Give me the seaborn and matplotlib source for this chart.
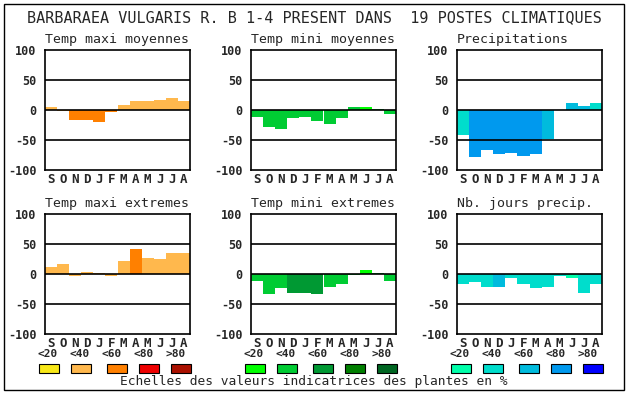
import pandas as pd
import matplotlib
matplotlib.use("Agg")
import matplotlib.pyplot as plt
from matplotlib.patches import Rectangle
import seaborn as sns

# === DONNEES ===
mois = ['S', 'O', 'N', 'D', 'J', 'F', 'M', 'A', 'M', 'J', 'J', 'A']
classes = ['<20', '<40', '<60', '<80', '>80']

titre = "BARBARAEA VULGARIS R. B 1-4 PRESENT DANS  19 POSTES CLIMATIQUES"
pied = "Echelles des valeurs indicatrices des plantes en %"

titres = ['Temp maxi moyennes', 'Temp mini moyennes', 'Precipitations',
          'Temp maxi extremes', 'Temp mini extremes', 'Nb. jours precip.']

tmax_moy = [5, -2, -16, -17, -20, -4, 8, 15, 15, 17, 20, 15]
tmax_moy_cl = ['<40', '<40', '<60', '<60', '<60', '<60', '<40', '<40', '<40', '<40', '<40', '<40']

tmin_moy = [-11, -28, -31, -14, -11, -18, -23, -13, 5, 5, 2, -6]
tmin_moy_cl = ['<40', '<40', '<40', '<40', '<40', '<40', '<40', '<40', '<40', '<20', '<40', '<40']

precip = [-42, -78, -67, -73, -72, -76, -73, -48, 0, 12, 7, 12]
precip_cl = ['<40', '<80', '<80', '<80', '<80', '<80', '<80', '<60', '<60', '<60', '<60', '<40']

tmax_ext = [12, 17, -3, 3, 2, -4, 21, 42, 27, 25, 35, 35]
tmax_ext_cl = ['<40', '<40', '<40', '<40', '<40', '<40', '<40', '<60', '<40', '<40', '<40', '<40']

tmin_ext = [-12, -34, -23, -32, -32, -34, -21, -17, -2, 7, 2, -11]
tmin_ext_cl = ['<40', '<40', '<40', '<60', '<60', '<60', '<40', '<40', '<40', '<20', '<40', '<40']

jours = [-17, -13, -21, -21, -7, -16, -24, -22, -4, -7, -31, -16]
jours_cl = ['<40', '<40', '<40', '<60', '<40', '<40', '<40', '<40', '<40', '<20', '<40', '<40']

oranges = ['#F8E818', '#FFB84D', '#FF8000', '#EE0000', '#AA1000']
verts = ['#00FF00', '#00CC33', '#009933', '#007F00', '#006622']
bleus = ['#00FFAA', '#00DDCC', '#00BBDD', '#0099EE', '#0000FF']

series = [(tmax_moy, tmax_moy_cl, oranges), (tmin_moy, tmin_moy_cl, verts), (precip, precip_cl, bleus),
          (tmax_ext, tmax_ext_cl, oranges), (tmin_ext, tmin_ext_cl, verts), (jours, jours_cl, bleus)]

# === FIGURE ===
sns.set_style("white")
plt.rcParams['font.family'] = ['DejaVu Sans Mono']

W, H = 630, 394
fig = plt.figure(figsize=(W / 100, H / 100), dpi=100)


def fx(x):
    return x / W


def fy(y):
    return 1 - y / H


# cadre exterieur
fig.patches.append(Rectangle((fx(4), fy(390)), fx(620), (386) / H, transform=fig.transFigure,
                             fill=False, edgecolor='black', linewidth=1))
fig.text(fx(314), fy(18), titre, ha='center', va='center', fontsize=10.9)

gauches = [45, 251, 457]
hauts = [50, 214]

for i, (vals, cl, pal) in enumerate(series):
    col, lig = i % 3, i // 3
    x0, y0 = gauches[col], hauts[lig]
    ax = fig.add_axes([fx(x0), fy(y0 + 120), 145 / W, 120 / H])
    df = pd.DataFrame({'pos': range(12), 'val': vals, 'cl': cl})
    sns.barplot(data=df, x='pos', y='val', hue='cl', hue_order=classes,
                palette=dict(zip(classes, pal)), dodge=False, width=1, saturation=1,
                linewidth=0, errorbar=None, legend=False, ax=ax)
    for yy in (-50, 0, 50):
        ax.axhline(yy, color='black', linewidth=1.2, zorder=5)
    ax.set_xlim(-0.5, 11.5)
    ax.set_ylim(-100, 100)
    ax.set_yticks([-100, -50, 0, 50, 100])
    ax.set_yticklabels(['-100', '-50', '0', '50', '100'], fontweight='bold', fontsize=8.5)
    ax.set_xticks(range(12))
    ax.set_xticklabels(mois, fontweight='bold', fontsize=9)
    ax.tick_params(length=0, pad=2)
    ax.tick_params(axis='y', pad=6)
    ax.set_xlabel('')
    ax.set_ylabel('')
    for s in ax.spines.values():
        s.set_color('black')
        s.set_linewidth(1.2)
    ax.set_title(titres[i], loc='left', fontsize=9.5, pad=5)

# === LEGENDES (echelles) ===
centres_txt = [3, 35, 67, 99, 131]
centres_box = [4, 36, 72, 104, 136]
palettes = [oranges, verts, bleus]
for col in range(3):
    x0 = gauches[col]
    for k in range(5):
        fig.text(fx(x0 + centres_txt[k]), fy(354), classes[k], ha='center', va='center',
                 fontsize=8, fontweight='bold')
        fig.patches.append(Rectangle((fx(x0 + centres_box[k] - 10), fy(373)), 20 / W, 9 / H,
                                     transform=fig.transFigure, facecolor=palettes[col][k],
                                     edgecolor='black', linewidth=0.8))

fig.text(fx(314), fy(382), pied, ha='center', va='center', fontsize=9.3)

fig.savefig('out.png', dpi=100)
